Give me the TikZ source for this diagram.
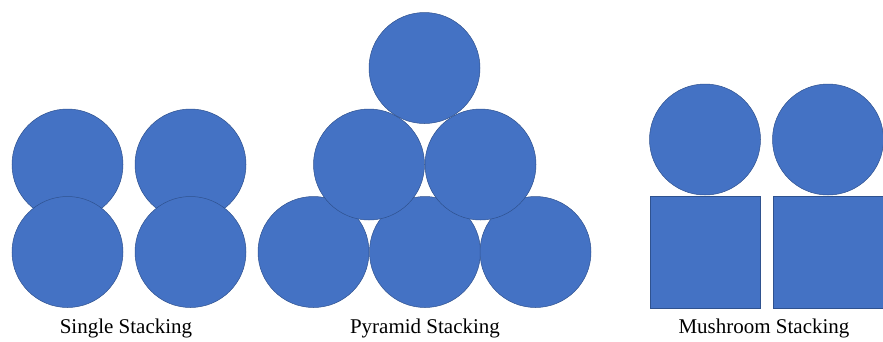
\documentclass[tikz,border=0pt]{standalone}
\usepackage{fontspec}
\setmainfont{Liberation Serif}
\definecolor{fillblue}{HTML}{4472C4}
\definecolor{edgeblue}{HTML}{2F528F}
\begin{document}
\begin{tikzpicture}[x=1pt,y=-1pt,
  ball/.style={circle,fill=fillblue,draw=edgeblue,line width=0.5pt,minimum size=111pt,inner sep=0pt},
  block/.style={rectangle,fill=fillblue,draw=edgeblue,line width=0.5pt,minimum width=110pt,minimum height=112pt,inner sep=0pt},
  caption/.style={font=\fontsize{21}{25}\selectfont,inner sep=0pt}]
\useasboundingbox (0,0) rectangle (883,341);
% Single stacking
\node[ball] (s1) at (67.5,164.5) {};
\node[ball] (s2) at (190.5,164.5) {};
\node[ball] (s3) at (67.5,252) {};
\node[ball] (s4) at (190.5,252) {};
\node[caption] (st) at (126,328) {Single Stacking};
% Pyramid stacking
\node[ball] (p4) at (313.5,252) {};
\node[ball] (p5) at (425,252) {};
\node[ball] (p6) at (535.5,252) {};
\node[ball] (p2) at (369,164.5) {};
\node[ball] (p3) at (480.5,164.5) {};
\node[ball] (p1) at (424.5,68) {};
\node[caption] (pt) at (425,328) {Pyramid Stacking};
% Mushroom stacking
\node[block] (b1) at (705,252) {};
\node[block] (b2) at (828,252) {};
\node[ball] (m1) at (705,139.5) {};
\node[ball] (m2) at (828,139.5) {};
\node[caption] (mt) at (764,328) {Mushroom Stacking};
\end{tikzpicture}
\end{document}
